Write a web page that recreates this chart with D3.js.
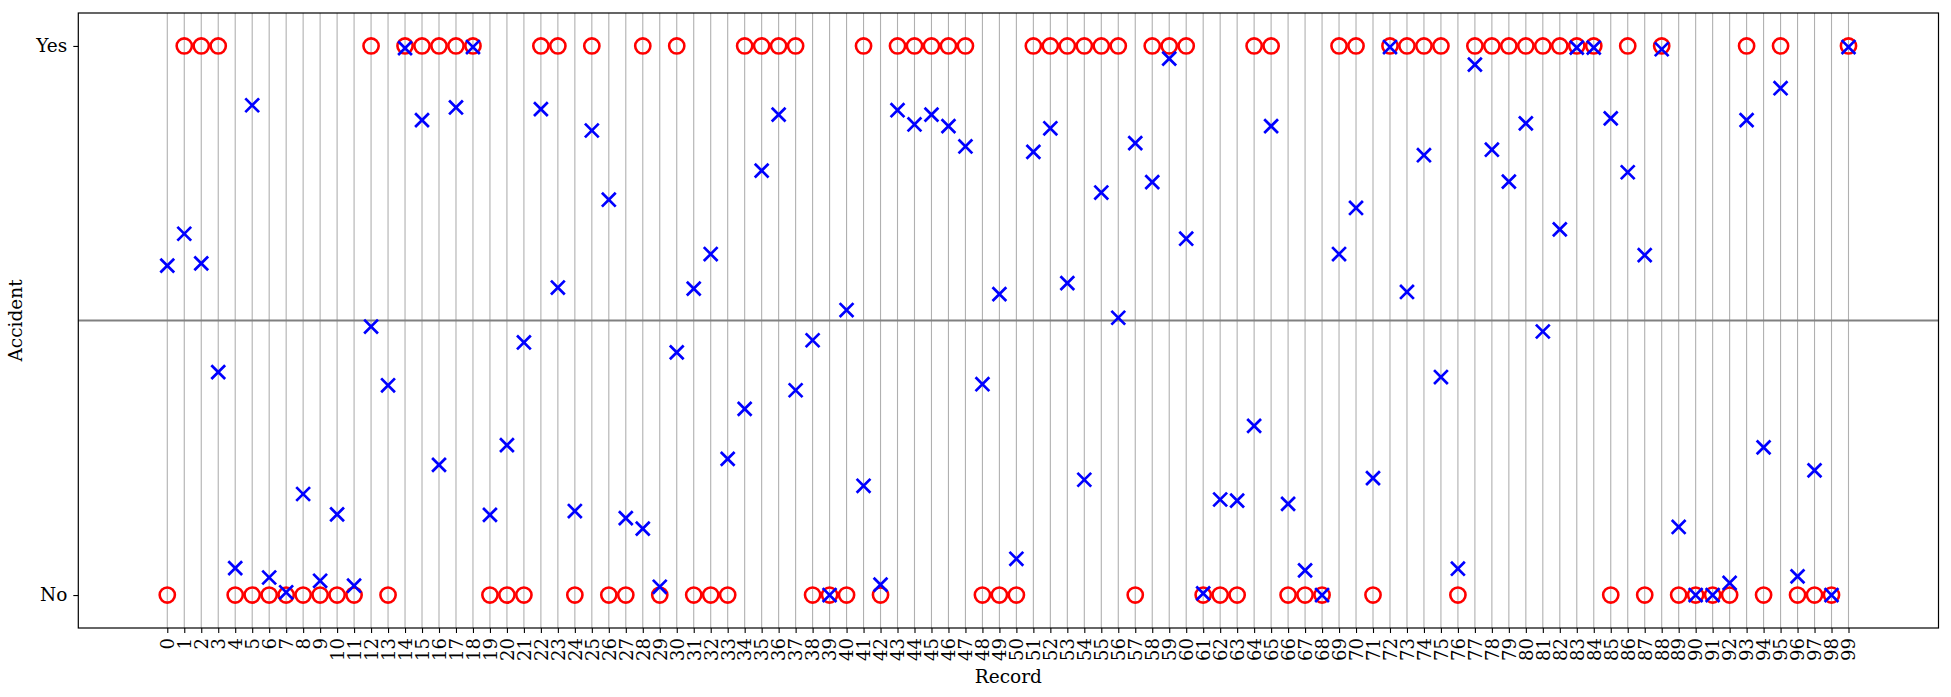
<!DOCTYPE html>
<html>
<head>
<meta charset="utf-8">
<script src="https://cdn.jsdelivr.net/npm/d3@7"></script>
<style>
  html, body { margin: 0; padding: 0; background: #fff; }
  svg { display: block; }
  text { font-family: "DejaVu Serif", serif; }
</style>
</head>
<body>
<svg id="chart" width="1951" height="697"></svg>
<script>
// Record indices 0..99
const records = d3.range(0, 100);

// Actual outcome (1 = Yes, 0 = No)
const actual = [
  0,1,1,1,0,0,0,0,0,0,
  0,0,1,0,1,1,1,1,1,0,
  0,0,1,1,0,1,0,0,1,0,
  1,0,0,0,1,1,1,1,0,0,
  0,1,0,1,1,1,1,1,0,0,
  0,1,1,1,1,1,1,0,1,1,
  1,0,0,0,1,1,0,0,0,1,
  1,0,1,1,1,1,0,1,1,1,
  1,1,1,1,1,0,1,0,1,0,
  0,0,0,1,0,1,0,0,0,1
];

// Predicted probability
const predicted = [
  0.600,0.658,0.604,0.406,0.049,0.892,0.032,0.005,0.184,0.026,
  0.147,0.017,0.489,0.382,0.996,0.865,0.237,0.888,0.998,0.146,
  0.273,0.460,0.885,0.560,0.153,0.846,0.720,0.140,0.121,0.015,
  0.442,0.558,0.621,0.248,0.339,0.773,0.875,0.373,0.464,0.000,
  0.519,0.199,0.019,0.883,0.857,0.875,0.854,0.817,0.384,0.548,
  0.066,0.807,0.850,0.568,0.210,0.733,0.505,0.823,0.752,0.977,
  0.649,0.003,0.174,0.172,0.308,0.854,0.166,0.045,0.000,0.621,
  0.705,0.213,0.998,0.552,0.801,0.397,0.048,0.966,0.811,0.753,
  0.859,0.480,0.666,0.997,0.997,0.868,0.770,0.619,0.994,0.124,
  0.000,0.000,0.022,0.865,0.269,0.923,0.034,0.227,0.000,0.998
];

const yTickValues = [0, 1];
const yTickLabels = ["No", "Yes"];

const svg = d3.select("#chart");
const L = 78.3, R = 1938.5, T = 13, B = 628;

const x = d3.scaleLinear().domain([-5.24, 104.3]).range([L, R]);
const y = d3.scaleLinear().domain([-0.06, 1.06]).range([B, T]);

// vertical grid lines
svg.append("g").selectAll("line").data(records).join("line")
  .attr("x1", d => x(d)).attr("x2", d => x(d))
  .attr("y1", T).attr("y2", B)
  .attr("stroke", "#b0b0b0").attr("stroke-width", 1.1);

// threshold line
svg.append("line")
  .attr("x1", L).attr("x2", R)
  .attr("y1", y(0.5)).attr("y2", y(0.5))
  .attr("stroke", "#808080").attr("stroke-width", 1.8);

// actual: red hollow circles
svg.append("g").selectAll("circle").data(records).join("circle")
  .attr("cx", d => x(d)).attr("cy", d => y(actual[d]))
  .attr("r", 7.6)
  .attr("fill", "none").attr("stroke", "#ff0000").attr("stroke-width", 2.6);

// predicted: blue x markers
const s = 6.9;
svg.append("g").selectAll("path").data(records).join("path")
  .attr("d", d => {
    const cx = x(d), cy = y(predicted[d]);
    return `M${cx - s},${cy - s}L${cx + s},${cy + s}M${cx - s},${cy + s}L${cx + s},${cy - s}`;
  })
  .attr("fill", "none").attr("stroke", "#0000ff").attr("stroke-width", 2.7);

// frame
svg.append("rect")
  .attr("x", L).attr("y", T).attr("width", R - L).attr("height", B - T)
  .attr("fill", "none").attr("stroke", "#000").attr("stroke-width", 1.2);

// x axis
const xAxis = svg.append("g").attr("transform", `translate(0,${B})`)
  .call(d3.axisBottom(x).tickValues(records).tickFormat(d => String(d)).tickSize(5).tickPadding(4));
xAxis.select(".domain").remove();
xAxis.selectAll(".tick line").attr("stroke", "#000").attr("stroke-width", 1.1);
xAxis.selectAll(".tick text")
  .attr("font-family", "DejaVu Serif, serif")
  .attr("font-size", 18)
  .attr("fill", "#000")
  .attr("transform", "rotate(-90)")
  .attr("text-anchor", "end")
  .attr("x", -10)
  .attr("y", 0)
  .attr("dy", "0.35em");

// y axis
const yAxis = svg.append("g").attr("transform", `translate(${L},0)`)
  .call(d3.axisLeft(y).tickValues(yTickValues).tickFormat((d, i) => yTickLabels[i]).tickSize(5).tickPadding(6));
yAxis.select(".domain").remove();
yAxis.selectAll(".tick line").attr("stroke", "#000").attr("stroke-width", 1.1);
yAxis.selectAll(".tick text")
  .attr("font-family", "DejaVu Serif, serif")
  .attr("font-size", 18.5)
  .attr("fill", "#000");

// axis titles
svg.append("text")
  .attr("x", (L + R) / 2).attr("y", 683)
  .attr("text-anchor", "middle")
  .attr("font-size", 18.5)
  .text("Record");

svg.append("text")
  .attr("transform", `translate(22,${(T + B) / 2}) rotate(-90)`)
  .attr("text-anchor", "middle")
  .attr("font-size", 18.5)
  .text("Accident");
</script>
</body>
</html>
